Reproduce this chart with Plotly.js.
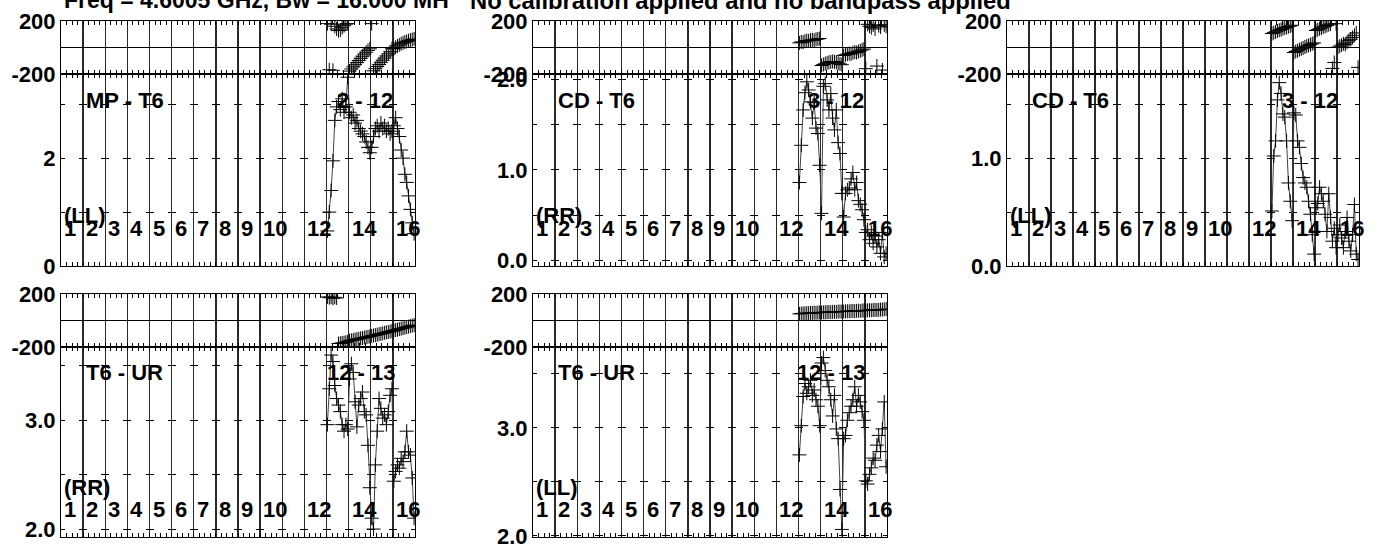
<!DOCTYPE html>
<html>
<head>
<meta charset="utf-8">
<script src="https://cdn.plot.ly/plotly-3.0.1.min.js"></script>
<style>html,body{margin:0;padding:0;background:#fff;}#chart{width:1377px;height:552px;}</style>
</head>
<body>
<div id="chart"></div>
<script>
// ---------- data ----------
const nIF = 16;
const chanPerIF = 12;
const dataIFs = [13, 14, 15, 16];
const ifLabels = ['1','2','3','4','5','6','7','8','9','10','','12','','14','','16'];

const titleLeft = 'Freq = 4.6005 GHz, Bw = 16.000 MH';
const titleRight = 'No calibration applied and no bandpass applied';

const baselineNames = ['MP - T6', 'CD - T6', 'CD - T6', 'T6 - UR', 'T6 - UR'];
const antennaPairs = ['2 - 12', '3 - 12', '3 - 12', '12 - 13', '12 - 13'];
const stokes = ['(LL)', '(RR)', '(LL)', '(RR)', '(LL)'];

// amplitude / phase per channel (IF13..IF16, 12 channels each)
const ampMP_T6_LL = [0.65,1.00,1.40,1.95,2.70,2.95,3.05,2.90,3.10,2.85,2.95,3.50,
  2.85,2.75,2.80,2.65,2.70,2.55,2.50,2.45,2.40,2.30,2.20,2.10,
  2.20,2.40,2.55,2.60,2.50,2.65,2.55,2.60,2.50,2.55,2.45,2.50,
  2.60,2.75,2.55,2.40,2.15,2.00,1.70,1.55,1.30,1.05,0.80,0.60];
const phMP_T6_LL = [180,-168,176,-172,160,140,128,132,150,165,176,180,
  -178,-162,-146,-130,-114,-98,-82,-66,-50,-36,-22,-10,
  180,-176,-160,-144,-128,-112,-96,-80,-64,-48,-32,-10,
  -8,2,12,20,28,35,41,46,51,56,60,64];

const ampCD_T6_RR = [0.86,1.27,1.66,1.85,1.97,1.88,1.75,1.57,1.74,1.46,1.40,1.05,
  0.52,1.92,1.95,1.77,1.66,1.84,1.57,1.44,1.66,1.30,1.18,0.74,
  0.48,0.74,0.78,0.80,0.90,0.97,0.78,0.86,0.66,0.62,0.56,0.45,
  0.31,0.34,0.23,0.31,0.19,0.27,0.15,0.23,0.08,0.31,0.04,0.08];
const phCD_T6_RR = [35,42,40,48,52,50,56,58,55,62,64,68,
  -136,-128,-122,-116,-112,-108,-106,-108,-112,-118,-124,-130,
  -60,-55,-50,-46,-48,-40,-35,-38,-30,-25,-18,-12,
  -160,175,160,150,170,140,-140,165,155,-170,172,160];

const ampCD_T6_LL = [0.51,1.02,1.16,1.54,1.70,1.60,1.41,1.38,1.16,0.77,0.60,0.42,
  1.42,1.40,1.16,1.10,0.95,0.82,0.77,0.73,0.60,0.48,0.29,0.11,
  0.54,0.58,0.73,0.67,0.60,0.48,0.32,0.67,0.45,0.23,0.35,0.17,
  0.29,0.38,0.26,0.17,0.32,0.45,0.23,0.14,0.29,0.57,0.11,0.06];
const phCD_T6_LL = [105,112,118,125,130,136,142,148,152,158,162,168,
  -38,-30,-24,-16,-10,-4,4,10,16,22,28,35,
  128,135,142,148,155,160,166,172,178,-158,-113,180,
  2,10,18,28,24,40,52,62,76,92,110,-150];

const ampT6_UR_RR = [2.96,3.29,3.60,3.54,3.32,3.20,3.14,3.08,2.96,2.90,2.96,2.92,
  3.38,3.52,3.44,3.17,2.94,3.14,3.20,3.26,3.08,3.05,2.77,2.38,
  2.10,2.00,2.59,2.90,3.20,3.11,3.02,3.05,2.96,3.08,3.23,3.29,
  2.44,2.53,2.59,2.56,2.65,2.62,2.71,2.90,2.71,2.68,2.47,2.10];
const phT6_UR_RR = [178,172,176,168,175,170,-174,-172,-170,-167,-164,-160,
  -153,-150,-147,-144,-141,-138,-135,-132,-129,-126,-123,-120,
  -116,-113,-110,-107,-103,-100,-97,-93,-90,-87,-84,-80,
  -76,-72,-69,-65,-61,-58,-54,-50,-46,-42,-39,-35];

const ampT6_UR_LL = [2.75,3.02,3.29,3.41,3.32,3.38,3.44,3.30,3.35,3.26,3.20,3.02,
  3.60,3.65,3.53,3.44,3.38,3.26,3.11,3.30,2.99,2.90,2.43,2.06,
  2.90,2.93,3.07,3.14,3.20,3.26,3.38,3.20,3.30,3.24,3.15,3.07,
  2.51,2.48,2.57,2.63,2.72,2.70,2.84,2.93,2.78,2.99,3.24,2.64];
const phT6_UR_LL = [50,52,54,53,56,55,58,57,59,58,60,61,
  60,62,61,63,64,63,65,66,65,67,68,67,
  68,69,70,69,71,72,71,73,74,73,75,76,
  75,77,78,77,79,80,79,81,82,83,84,86];

const ampSeries = [ampMP_T6_LL, ampCD_T6_RR, ampCD_T6_LL, ampT6_UR_RR, ampT6_UR_LL];
const phSeries = [phMP_T6_LL, phCD_T6_RR, phCD_T6_LL, phT6_UR_RR, phT6_UR_LL];
const ampRanges = [[0, 3.56], [-0.06, 2.056], [0, 1.78], [1.927, 3.674], [1.99, 3.748]];
const ampTickVals = [[0,1,2,3], [0,0.5,1,1.5,2], [0,0.5,1,1.5], [2,2.5,3,3.5], [2,2.5,3,3.5]];
const ampTickText = [['0','','2',''], ['0.0','','1.0','','2.0'], ['0.0','','1.0',''], ['2.0','','3.0',''], ['2.0','','3.0','']];

// ---------- layout geometry (pixels) ----------
const W = 1377, H = 552;
const panelX = [[61,415],[533,887],[1007,1359],[61,415],[533,887]];
const panelRow = [0,0,0,1,1];
const rowY = [{top:21, mid:74, bot:266}, {top:294, mid:347, bot:537}];
const labelY = [{name:100, pol:215, num:229}, {name:372, pol:487, num:509}];
const pairOffset = [80, 81, 79, 90, 92];

// channel x positions
const xs = [];
dataIFs.forEach(f => { for (let c = 0; c < chanPerIF; c++) xs.push((f - 1) * chanPerIF + c + 0.5); });

const FAM = 'Liberation Sans, Arial, sans-serif';
const FONT = {family: FAM, size: 22, color: '#000', weight: 'bold'};
const TFONT_L = {family: FAM, size: 23, color: '#000', weight: 'bold'};
const TFONT_R = {family: FAM, size: 23.8, color: '#000', weight: 'bold'};
const traces = [];
const layout = {
  width: W, height: H, margin: {l:0, r:0, t:0, b:0},
  paper_bgcolor: '#fff', plot_bgcolor: 'rgba(0,0,0,0)',
  showlegend: false, font: FONT, annotations: []
};

function px2x(p) { return p / W; }
function py2y(p) { return 1 - p / H; }

const cross = {symbol: 'cross-thin-open', size: 10, line: {width: 1, color: '#000'}, color: '#000'};

for (let i = 0; i < 5; i++) {
  const ph = 2 * i + 1, am = 2 * i + 2;
  const [x0, x1] = panelX[i];
  const r = rowY[panelRow[i]];
  const ifw = (x1 - x0) / nIF;
  traces.push({x: xs, y: phSeries[i], xaxis: 'x' + ph, yaxis: 'y' + ph, mode: 'markers', marker: cross, hoverinfo: 'skip'});
  traces.push({x: xs, y: ampSeries[i], xaxis: 'x' + am, yaxis: 'y' + am, mode: 'lines+markers', marker: cross,
    line: {color: '#444', width: 1}, hoverinfo: 'skip'});

  const xax = (anchor) => ({
    domain: [px2x(x0), px2x(x1)], range: [0, nIF * chanPerIF], anchor: anchor,
    showgrid: true, gridcolor: '#2a2a2a', gridwidth: 1.4,
    tickmode: 'linear', tick0: 0, dtick: chanPerIF, ticks: 'inside', ticklen: 4, tickcolor: '#000',
    showticklabels: false, showline: true, mirror: 'allticks', linecolor: '#000', linewidth: 1, zeroline: false,
    minor: {dtick: chanPerIF / 4, tick0: 0, ticks: 'inside', ticklen: 4, tickcolor: '#000', showgrid: false}
  });
  layout['xaxis' + ph] = xax('y' + ph);
  layout['xaxis' + am] = xax('y' + am);
  layout['yaxis' + ph] = {
    domain: [py2y(r.mid), py2y(r.top)], range: [-200, 200], anchor: 'x' + ph,
    tickmode: 'array', tickvals: [-200, 0, 200], ticktext: ['-200', '', '200'], ticks: '',
    showgrid: true, gridcolor: '#000', gridwidth: 1, zeroline: false,
    showline: true, mirror: true, linecolor: '#000', linewidth: 1, tickfont: FONT
  };
  layout['yaxis' + am] = {
    domain: [py2y(r.bot), py2y(r.mid)], range: ampRanges[i], anchor: 'x' + am,
    tickmode: 'array', tickvals: ampTickVals[i], ticktext: ampTickText[i], ticks: '',
    showgrid: true, gridcolor: '#000', gridwidth: 1,
    griddash: '4px,' + (ifw - 8).toFixed(3) + 'px,4px,0px',
    zeroline: false, showline: true, mirror: true, linecolor: '#000', linewidth: 1, tickfont: FONT
  };

  const L = labelY[panelRow[i]];
  layout.annotations.push({xref: 'paper', yref: 'paper', x: px2x(x0 + 23), y: py2y(L.name), text: baselineNames[i],
    showarrow: false, xanchor: 'left', yanchor: 'middle', font: FONT});
  layout.annotations.push({xref: 'paper', yref: 'paper', x: px2x(x1 - pairOffset[i]), y: py2y(L.name), text: antennaPairs[i],
    showarrow: false, xanchor: 'left', yanchor: 'middle', font: FONT});
  layout.annotations.push({xref: 'paper', yref: 'paper', x: px2x(x0 + 1), y: py2y(L.pol), text: stokes[i],
    showarrow: false, xanchor: 'left', yanchor: 'middle', font: FONT});
  ifLabels.forEach((t, k) => {
    if (!t) return;
    layout.annotations.push({xref: 'x' + am, yref: 'paper', x: k * chanPerIF, xshift: 1, y: py2y(L.num), text: t,
      showarrow: false, xanchor: 'left', yanchor: 'middle', font: FONT});
  });
}

layout.annotations.push({xref: 'paper', yref: 'paper', x: px2x(62), y: py2y(0), text: titleLeft,
  showarrow: false, xanchor: 'left', yanchor: 'middle', font: TFONT_L});
layout.annotations.push({xref: 'paper', yref: 'paper', x: px2x(468), y: py2y(0), text: titleRight,
  showarrow: false, xanchor: 'left', yanchor: 'middle', font: TFONT_R});

Plotly.newPlot('chart', traces, layout, {staticPlot: true, displayModeBar: false});
</script>
</body>
</html>
